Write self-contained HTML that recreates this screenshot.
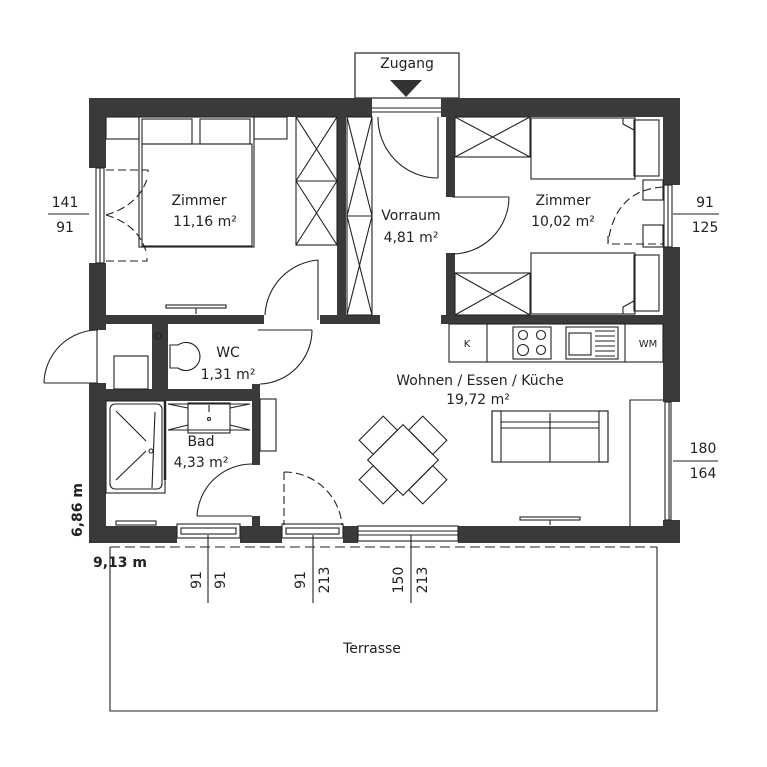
<!DOCTYPE html>
<html><head><meta charset="utf-8"><style>
html,body{margin:0;padding:0;background:#fff;}
svg{display:block;}
text{font-family:"DejaVu Sans","Liberation Sans",sans-serif;fill:#222;}
</style></head><body>
<svg width="767" height="767" viewBox="0 0 767 767" xmlns="http://www.w3.org/2000/svg">
<g fill="none" stroke="#222" stroke-width="1.2">
<!-- Zugang box -->
<rect x="355" y="53" width="104" height="45"/>
</g>
<polygon points="390,80 422,80 406,97" fill="#333"/>
<text x="407" y="68" font-size="14" text-anchor="middle">Zugang</text>

<!-- Outer walls -->
<g fill="#3a3a3a">
<rect x="89" y="98" width="283" height="19"/>
<rect x="441" y="98" width="239" height="19"/>
<rect x="89" y="98" width="17" height="70"/>
<rect x="89" y="263" width="17" height="67"/>
<rect x="89" y="383" width="17" height="160"/>
<rect x="663" y="98" width="17" height="87"/>
<rect x="663" y="247" width="17" height="155"/>
<rect x="663" y="520" width="17" height="23"/>
<rect x="89" y="526" width="88" height="17"/>
<rect x="240" y="526" width="42" height="17"/>
<rect x="343" y="526" width="15" height="17"/>
<rect x="458" y="526" width="222" height="17"/>
<!-- interior walls -->
<rect x="337" y="117" width="9" height="203"/>
<rect x="446" y="117" width="9" height="80"/>
<rect x="446" y="253" width="9" height="67"/>
<rect x="106" y="315" width="158" height="9"/>
<rect x="320" y="315" width="60" height="9"/>
<rect x="441" y="315" width="222" height="9"/>
<rect x="152" y="324" width="16" height="66"/>
<rect x="89" y="389" width="171" height="12"/>
<rect x="252" y="384" width="8" height="81"/>
<rect x="252" y="516" width="8" height="10"/>
</g>

<g fill="none" stroke="#222" stroke-width="1.1">
<!-- entry opening door -->
<line x1="372" y1="108" x2="441" y2="108"/>
<line x1="372" y1="112" x2="441" y2="112"/>
<line x1="438" y1="117" x2="438" y2="178"/>
<path d="M378,117 A60,60 0 0 0 438,178"/>
<!-- left room bed -->
<rect x="139" y="117" width="115" height="130"/>
<rect x="142" y="119" width="50" height="25"/>
<rect x="200" y="119" width="50" height="25"/>
<rect x="142" y="144" width="110" height="102"/>
<rect x="106" y="117" width="33" height="22"/>
<rect x="254" y="117" width="33" height="22"/>
<!-- left closet -->
<rect x="296" y="117" width="41" height="128"/>
<line x1="296" y1="181" x2="337" y2="181"/>
<path d="M296,117 L337,181 M337,117 L296,181 M296,181 L337,245 M337,181 L296,245"/>
<!-- vorraum closet -->
<rect x="347" y="117" width="25" height="198"/>
<line x1="347" y1="216" x2="372" y2="216"/>
<path d="M347,117 L372,216 M372,117 L347,216 M347,216 L372,315 M372,216 L347,315"/>
<!-- left window -->
<rect x="96" y="168" width="8" height="95"/>
<line x1="100" y1="168" x2="100" y2="263"/>
<path d="M106,170 H148 V176 M106,261 H147 V255" stroke-dasharray="8,4"/>
<path d="M106,215 Q140,205 148,176 M106,215 Q140,225 147,255" stroke-dasharray="8,4"/>
<line x1="48" y1="214" x2="89" y2="214"/>
<!-- left room door -->
<line x1="318" y1="260" x2="318" y2="320"/>
<path d="M318,260 A58,58 0 0 0 265,315"/>
<!-- radiator left room -->
<rect x="166" y="305" width="60" height="3"/>
<line x1="196" y1="308" x2="196" y2="314"/>
<!-- right room door -->
<line x1="452" y1="197" x2="509" y2="197"/>
<path d="M509,197 A57,57 0 0 1 452,254"/>
<!-- right closets -->
<rect x="455" y="117" width="75" height="40"/>
<path d="M455,117 L530,157 M530,117 L455,157"/>
<rect x="455" y="273" width="75" height="42"/>
<path d="M455,273 L530,315 M530,273 L455,315"/>
<!-- right beds -->
<rect x="531" y="118" width="104" height="61"/>
<rect x="634" y="120" width="25" height="56"/>
<path d="M623,118 L623,124 L634,130"/>
<rect x="531" y="253" width="104" height="61"/>
<rect x="634" y="255" width="25" height="56"/>
<path d="M623,314 L623,307 L634,301"/>
<rect x="643" y="180" width="20" height="20"/>
<rect x="643" y="225" width="20" height="22"/>
<!-- right window -->
<rect x="664" y="185" width="8" height="62"/>
<line x1="668" y1="185" x2="668" y2="247"/>
<path d="M663,187 Q615,190 608,243 M608,236 V244 H663" stroke-dasharray="8,4"/>
<line x1="673" y1="214" x2="719" y2="214"/>
<!-- outer side door -->
<line x1="44" y1="383" x2="98" y2="383"/>
<path d="M98,330 A54,54 0 0 0 44,383"/>
<line x1="97" y1="330" x2="97" y2="383"/>
<rect x="114" y="356" width="34" height="33"/>
<circle cx="158" cy="336" r="3"/>
<!-- toilet -->
<path d="M170,345 H178 A14,14 0 1 1 178,368 H170 Z"/>
<!-- WC door -->
<line x1="258" y1="330" x2="312" y2="330"/>
<path d="M312,330 A54,54 0 0 1 260,384"/>
<!-- bath -->
<rect x="106" y="401" width="59" height="92"/>
<rect x="110" y="404" width="52" height="85" rx="5"/>
<path d="M116,411 L146,441 M116,480 L146,451 M155,412 L152,488" />
<circle cx="151" cy="451" r="2"/>
<line x1="165" y1="401" x2="165" y2="480" stroke-width="2.5"/>
<rect x="188" y="403" width="42" height="30"/>
<path d="M168,404 L188,408 M168,430 L188,425 M250,404 L230,408 M250,430 L230,425 M168,404 H250 M168,430 H250"/>
<circle cx="209" cy="419" r="1.5"/>
<line x1="209" y1="405" x2="209" y2="412"/>
<rect x="260" y="399" width="16" height="52"/>
<!-- Bad door -->
<line x1="197" y1="516" x2="252" y2="516"/>
<path d="M197,516 A55,55 0 0 1 252,464"/>
<rect x="116" y="521" width="40" height="4"/>
<!-- door dashed bottom -->
<path d="M284,472 V525 M284,472 A58,58 0 0 1 342,525" stroke-dasharray="8,4"/>
<!-- bottom windows -->
<rect x="177" y="524" width="63" height="14"/>
<rect x="181" y="528" width="55" height="6"/>
<rect x="282" y="524" width="61" height="14"/>
<rect x="286" y="528" width="53" height="6"/>
<rect x="358" y="526" width="100" height="15"/>
<line x1="358" y1="531" x2="458" y2="531"/>
<line x1="358" y1="535" x2="458" y2="535"/>
<!-- dimension verticals -->
<line x1="208" y1="535" x2="208" y2="603"/>
<line x1="313" y1="535" x2="313" y2="603"/>
<line x1="411" y1="535" x2="411" y2="603"/>
<!-- terrace -->
<line x1="110" y1="547" x2="657" y2="547" stroke-dasharray="10,5"/>
<path d="M110,547 V711 H657 V547"/>
<!-- kitchen -->
<rect x="449" y="324" width="214" height="38"/>
<line x1="487" y1="324" x2="487" y2="362"/>
<line x1="625" y1="324" x2="625" y2="362"/>
<rect x="513" y="327" width="38" height="32"/>
<circle cx="523" cy="335" r="4.5"/><circle cx="541" cy="335" r="4.5"/>
<circle cx="523" cy="350" r="5.5"/><circle cx="541" cy="350" r="4.5"/>
<rect x="566" y="327" width="52" height="32"/>
<rect x="569" y="333" width="22" height="22"/>
<path d="M595,331 H615 M595,336 H615 M595,341 H615 M595,346 H615 M595,351 H615 M595,356 H615"/>
<!-- tall cabinet + right window -->
<path d="M630,526 V400 H663"/>
<rect x="665" y="402" width="6" height="118"/>
<line x1="669" y1="402" x2="669" y2="520"/>
<line x1="673" y1="461" x2="718" y2="461"/>
<!-- sofa -->
<rect x="492" y="411" width="116" height="51"/>
<rect x="492" y="411" width="9" height="51"/>
<rect x="599" y="411" width="9" height="51"/>
<line x1="501" y1="422" x2="599" y2="422"/>
<line x1="501" y1="428" x2="599" y2="428"/>
<line x1="550" y1="413" x2="550" y2="462"/>
<!-- table -->
<g transform="translate(403,460) rotate(45)">
<rect x="-25" y="-25" width="50" height="50" fill="#fff"/>
<rect x="-45" y="-17" width="20" height="34"/>
<rect x="25" y="-17" width="20" height="34"/>
<rect x="-17" y="-45" width="34" height="20"/>
<rect x="-17" y="25" width="34" height="20"/>
</g>
<!-- radiator living -->
<rect x="520" y="517" width="60" height="3"/>
<line x1="550" y1="520" x2="550" y2="525"/>
</g>

<g font-size="14">
<text x="199" y="205" text-anchor="middle">Zimmer</text>
<text x="205" y="226" text-anchor="middle">11,16 m²</text>
<text x="411" y="220" text-anchor="middle">Vorraum</text>
<text x="411" y="242" text-anchor="middle">4,81 m²</text>
<text x="563" y="205" text-anchor="middle">Zimmer</text>
<text x="563" y="226" text-anchor="middle">10,02 m²</text>
<text x="480" y="385" text-anchor="middle">Wohnen / Essen / Küche</text>
<text x="478" y="404" text-anchor="middle">19,72 m²</text>
<text x="228" y="357" text-anchor="middle">WC</text>
<text x="228" y="379" text-anchor="middle">1,31 m²</text>
<text x="201" y="446" text-anchor="middle">Bad</text>
<text x="201" y="467" text-anchor="middle">4,33 m²</text>
<text x="372" y="653" text-anchor="middle">Terrasse</text>
<text x="65" y="207" text-anchor="middle">141</text>
<text x="65" y="232" text-anchor="middle">91</text>
<text x="705" y="207" text-anchor="middle">91</text>
<text x="705" y="232" text-anchor="middle">125</text>
<text x="703" y="453" text-anchor="middle">180</text>
<text x="703" y="478" text-anchor="middle">164</text>
<text transform="translate(201,580) rotate(-90)" text-anchor="middle">91</text>
<text transform="translate(225,580) rotate(-90)" text-anchor="middle">91</text>
<text transform="translate(305,580) rotate(-90)" text-anchor="middle">91</text>
<text transform="translate(329,580) rotate(-90)" text-anchor="middle">213</text>
<text transform="translate(403,580) rotate(-90)" text-anchor="middle">150</text>
<text transform="translate(427,580) rotate(-90)" text-anchor="middle">213</text>
<text x="93" y="567" font-weight="bold">9,13 m</text>
<text transform="translate(82,510) rotate(-90)" text-anchor="middle" font-weight="bold">6,86 m</text>
</g>
<text x="467" y="347" font-size="10" text-anchor="middle">K</text>
<text x="648" y="347" font-size="10" text-anchor="middle">WM</text>
</svg>
</body></html>
